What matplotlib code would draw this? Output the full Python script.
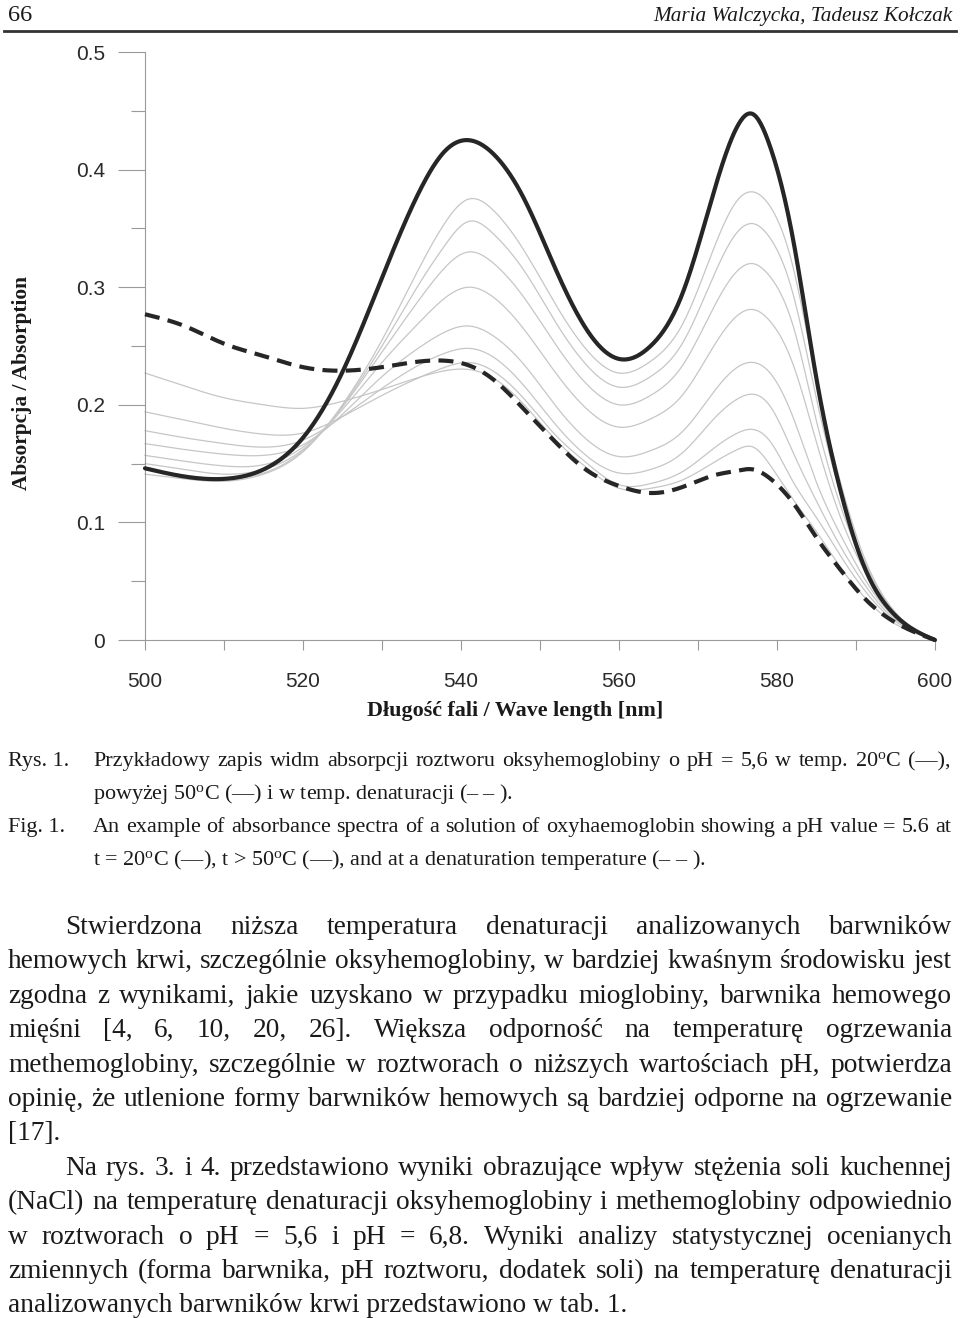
import numpy as np
import matplotlib
matplotlib.use("Agg")
import matplotlib.pyplot as plt
from matplotlib.font_manager import FontProperties
from matplotlib.lines import Line2D

plt.rcParams['mathtext.fontset'] = 'custom'
plt.rcParams['mathtext.rm'] = 'Liberation Serif'
plt.rcParams['mathtext.it'] = 'Liberation Serif:italic'
plt.rcParams['mathtext.bf'] = 'Liberation Serif:bold'

# ---------------- data ----------------
wavelength = [500, 505, 510, 515, 520, 525, 530, 535, 538, 541, 544, 548, 552, 556,
              560, 564, 568, 572, 575, 577, 579, 582, 585, 588, 591, 594, 597, 600]

abs_20C = [0.146, 0.139, 0.137, 0.145, 0.172, 0.228, 0.308, 0.385, 0.416, 0.425, 0.414, 0.375, 0.315, 0.263,
           0.239, 0.250, 0.294, 0.381, 0.437, 0.447, 0.422, 0.342, 0.222, 0.128, 0.063, 0.028, 0.010, 0.0]

abs_denat = [0.277, 0.267, 0.252, 0.2415, 0.232, 0.229, 0.232, 0.237, 0.2375, 0.2335, 0.222, 0.196, 0.168, 0.144,
             0.131, 0.125, 0.130, 0.140, 0.144, 0.145, 0.138, 0.117, 0.087, 0.060, 0.036, 0.019, 0.008, 0.0]

heat_1 = [0.141, 0.137, 0.135, 0.141, 0.160, 0.200, 0.255, 0.320, 0.355, 0.375, 0.366, 0.331, 0.285, 0.246,
          0.227, 0.237, 0.268, 0.333, 0.374, 0.381, 0.370, 0.318, 0.220, 0.135, 0.071, 0.032, 0.011, 0.0]
heat_2 = [0.145, 0.140, 0.137, 0.142, 0.161, 0.199, 0.250, 0.306, 0.336, 0.356, 0.346, 0.314, 0.270, 0.233,
          0.215, 0.224, 0.252, 0.310, 0.347, 0.354, 0.343, 0.295, 0.205, 0.125, 0.068, 0.031, 0.011, 0.0]
heat_3 = [0.150, 0.145, 0.141, 0.145, 0.162, 0.198, 0.245, 0.292, 0.317, 0.330, 0.321, 0.291, 0.251, 0.217,
          0.200, 0.208, 0.233, 0.283, 0.314, 0.320, 0.310, 0.268, 0.186, 0.115, 0.064, 0.030, 0.011, 0.0]
heat_4 = [0.157, 0.152, 0.148, 0.149, 0.164, 0.196, 0.236, 0.272, 0.291, 0.300, 0.292, 0.264, 0.227, 0.196,
          0.181, 0.188, 0.208, 0.250, 0.276, 0.281, 0.272, 0.235, 0.168, 0.105, 0.060, 0.028, 0.010, 0.0]
heat_5 = [0.167, 0.162, 0.158, 0.157, 0.166, 0.192, 0.224, 0.250, 0.262, 0.267, 0.259, 0.234, 0.199, 0.170,
          0.156, 0.161, 0.177, 0.211, 0.232, 0.236, 0.228, 0.190, 0.134, 0.090, 0.053, 0.025, 0.009, 0.0]
heat_6 = [0.178, 0.172, 0.167, 0.164, 0.170, 0.190, 0.214, 0.235, 0.244, 0.248, 0.241, 0.216, 0.183, 0.156,
          0.142, 0.145, 0.159, 0.188, 0.205, 0.209, 0.200, 0.160, 0.118, 0.080, 0.048, 0.023, 0.009, 0.0]
heat_7 = [0.194, 0.187, 0.180, 0.175, 0.176, 0.190, 0.208, 0.224, 0.232, 0.236, 0.229, 0.205, 0.174, 0.150,
          0.132, 0.133, 0.143, 0.163, 0.176, 0.179, 0.170, 0.135, 0.104, 0.072, 0.043, 0.021, 0.008, 0.0]
heat_8 = [0.227, 0.216, 0.206, 0.200, 0.197, 0.203, 0.213, 0.224, 0.229, 0.230, 0.223, 0.200, 0.170, 0.146,
          0.129, 0.129, 0.136, 0.151, 0.162, 0.164, 0.150, 0.120, 0.092, 0.062, 0.037, 0.018, 0.007, 0.0]
heating_series = [heat_1, heat_2, heat_3, heat_4, heat_5, heat_6, heat_7, heat_8]

x_ticks = [500, 520, 540, 560, 580, 600]
y_ticks = [0, 0.1, 0.2, 0.3, 0.4, 0.5]
y_tick_labels = ['0', '0.1', '0.2', '0.3', '0.4', '0.5']

header_page = "66"
header_authors = "Maria Walczycka, Tadeusz Kołczak"
ylabel = "Absorpcja / Absorption"
xlabel = "Długość fali / Wave length [nm]"

caption = [
    ("Rys. 1.", "Przykładowy zapis widm absorpcji roztworu oksyhemoglobiny o pH = 5,6 w temp. 20$^{\\mathrm{o}}$C (—),", True),
    ("", "powyżej 50$^{\\mathrm{o}}$C (—) i w temp. denaturacji (– – ).", False),
    ("Fig. 1.", "An example of absorbance spectra of a solution of oxyhaemoglobin showing a pH value = 5.6 at", True),
    ("", "t = 20$^{\\mathrm{o}}$C (—), t > 50$^{\\mathrm{o}}$C (—), and at a denaturation temperature (– – ).", False),
]

body = [
    ("Stwierdzona niższa temperatura denaturacji analizowanych barwników", True, True),
    ("hemowych krwi, szczególnie oksyhemoglobiny, w bardziej kwaśnym środowisku jest", False, True),
    ("zgodna z wynikami, jakie uzyskano w przypadku mioglobiny, barwnika hemowego", False, True),
    ("mięśni [4, 6, 10, 20, 26]. Większa odporność na temperaturę ogrzewania", False, True),
    ("methemoglobiny, szczególnie w roztworach o niższych wartościach pH, potwierdza", False, True),
    ("opinię, że utlenione formy barwników hemowych są bardziej odporne na ogrzewanie", False, True),
    ("[17].", False, False),
    ("Na rys. 3. i 4. przedstawiono wyniki obrazujące wpływ stężenia soli kuchennej", True, True),
    ("(NaCl) na temperaturę denaturacji oksyhemoglobiny i methemoglobiny odpowiednio", False, True),
    ("w roztworach o pH = 5,6 i pH = 6,8. Wyniki analizy statystycznej ocenianych", False, True),
    ("zmiennych (forma barwnika, pH roztworu, dodatek soli) na temperaturę denaturacji", False, True),
    ("analizowanych barwników krwi przedstawiono w tab. 1.", False, False),
]

# ---------------- helpers ----------------
W, H = 960, 1318
fig = plt.figure(figsize=(9.6, 13.18), dpi=100)
renderer = fig.canvas.get_renderer()


def fp(size, weight='normal', style='normal', family='Liberation Serif'):
    return FontProperties(family=family, size=size, weight=weight, style=style)


def tw(s, prop):
    w, h, d = renderer.get_text_width_height_descent(s, prop, ismath=('$' in s))
    return w


def put(x, y, s, prop, **kw):
    fig.text(x / W, 1 - y / H, s, fontproperties=prop, va='baseline', color='#1a1a1a', **kw)


def line(x0, x1, y, s, prop, justify):
    if not justify:
        put(x0, y, s, prop)
        return
    words = s.split(' ')
    widths = [tw(w, prop) for w in words]
    gap = (x1 - x0 - sum(widths)) / (len(words) - 1)
    x = x0
    for w, wd in zip(words, widths):
        put(x, y, w, prop)
        x += wd + gap


def fit_size(items, ref=16.0):
    ratios = []
    for s, target in items:
        p = fp(ref)
        words = s.split(' ')
        sp = tw('a a', p) - tw('aa', p)
        nat = sum(tw(w, p) for w in words) + sp * (len(words) - 1)
        ratios.append(target / nat)
    return ref * min(ratios) * 0.995


def smooth(x, y, n=700):
    x = np.asarray(x, float)
    y = np.asarray(y, float)
    h = np.diff(x)
    m = len(x)
    A = np.zeros((m, m))
    b = np.zeros(m)
    A[0, 0] = 1
    A[-1, -1] = 1
    for i in range(1, m - 1):
        A[i, i - 1] = h[i - 1]
        A[i, i] = 2 * (h[i - 1] + h[i])
        A[i, i + 1] = h[i]
        b[i] = 3 * ((y[i + 1] - y[i]) / h[i] - (y[i] - y[i - 1]) / h[i - 1])
    c = np.linalg.solve(A, b)
    bb = np.diff(y) / h - h * (2 * c[:-1] + c[1:]) / 3
    d = np.diff(c) / (3 * h)
    xs = np.linspace(x[0], x[-1], n)
    idx = np.clip(np.searchsorted(x, xs) - 1, 0, m - 2)
    dx = xs - x[idx]
    return xs, y[idx] + bb[idx] * dx + c[idx] * dx ** 2 + d[idx] * dx ** 3


# ---------------- header ----------------
put(8, 21, header_page, fp(17.5))
s_auth = 17 * 300 / tw(header_authors, fp(17, style='italic'))
put(952, 21, header_authors, fp(s_auth, style='italic'), ha='right')
fig.add_artist(Line2D([4 / W, 956 / W], [1 - 31 / H] * 2, transform=fig.transFigure,
                      color='#333333', lw=2.0))

# ---------------- chart ----------------
ax = fig.add_axes([145 / W, 1 - 640 / H, 790 / W, 588 / H])
ax.set_xlim(500, 600)
ax.set_ylim(0, 0.5)
for s in ['top', 'right']:
    ax.spines[s].set_visible(False)
for s in ['left', 'bottom']:
    ax.spines[s].set_color('#9a9a9a')
    ax.spines[s].set_linewidth(0.8)

for ser in heating_series:
    xs, ys = smooth(wavelength, ser)
    ax.plot(xs, ys, color='#c6c6c6', lw=0.9, zorder=2, clip_on=False)
xs, ys = smooth(wavelength, abs_denat)
ax.plot(xs, ys, color='#262626', lw=3.0, dashes=(3.6, 2.0), zorder=4, clip_on=False)
xs, ys = smooth(wavelength, abs_20C)
ax.plot(xs, ys, color='#262626', lw=3.0, zorder=5, clip_on=False, solid_capstyle='round')

ax.set_xticks(x_ticks)
ax.set_xticks(np.arange(510, 600, 20), minor=True)
ax.set_yticks(y_ticks)
ax.set_yticklabels(y_tick_labels)
ax.set_yticks(np.arange(0.05, 0.5, 0.1), minor=True)
tick_font = 15
ax.tick_params(axis='x', which='both', direction='out', length=7.2, width=0.8,
               color='#9a9a9a', pad=16, labelsize=tick_font, labelcolor='#2a2a2a')
ax.tick_params(axis='y', which='major', direction='out', length=19.4, width=0.8,
               color='#9a9a9a', pad=9.4, labelsize=tick_font, labelcolor='#2a2a2a')
ax.tick_params(axis='y', which='minor', direction='out', length=10, width=0.8, color='#9a9a9a')
for lab in ax.get_xticklabels() + ax.get_yticklabels():
    lab.set_fontfamily('Liberation Sans')

s_yl = 16 * 215 / tw(ylabel, fp(16, weight='bold'))
fig.text(22 / W, 1 - 383 / H, ylabel, rotation=90, ha='center', va='center',
         fontproperties=fp(s_yl, weight='bold'), color='#1a1a1a')
s_xl = 16 * 296 / tw(xlabel, fp(16, weight='bold'))
fig.text(515 / W, 1 - 711 / H, xlabel, ha='center', va='center',
         fontproperties=fp(s_xl, weight='bold'), color='#1a1a1a')

# ---------------- caption ----------------
cap_size = fit_size([(s, 858) for lab, s, just in caption if just])
cap_fp = fp(cap_size)
cap_base = [766, 799, 832, 865]
for (lab, s, just), yb in zip(caption, cap_base):
    if lab:
        put(8, yb, lab, cap_fp)
    line(93, 951, yb, s, cap_fp, just)

# ---------------- body ----------------
body_size = fit_size([(s, 952 - (65 if ind else 8)) for s, ind, just in body if just])
body_fp = fp(body_size)
y0, step = 934, 34.4
for i, (s, indent, just) in enumerate(body):
    x0 = 65 if indent else 8
    line(x0, 952, y0 + i * step, s, body_fp, just)

fig.savefig('out.png', dpi=100, facecolor='white')
